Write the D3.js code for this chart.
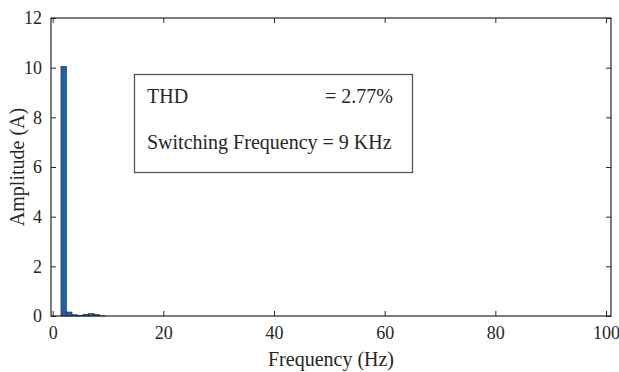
<!DOCTYPE html>
<html lang="en">
<head>
    <meta charset="UTF-8">
    <title>THD spectrum</title>
    <script type="text/javascript" src="https://d3js.org/d3.v7.min.js"></script>
    <style>
        body{
            margin: 0;
            background-color: white;
        }
        text{
            font-family: "Liberation Serif", "Times New Roman", serif;
            fill: #262626;
        }
    </style>
</head>
<body>
    <script type="text/javascript">
        // harmonic spectrum, 1 Hz bins
        var freqs = [0, 1, 2, 3, 4, 5, 6, 7, 8, 9, 10];
        var amps  = [0, 0, 10.05, 0.16, 0.05, 0.03, 0.07, 0.1, 0.06, 0.01, 0];
        var xTicks = [0, 20, 40, 60, 80, 100];
        var yTicks = [0, 2, 4, 6, 8, 10, 12];
        var infoLines = [["THD", "= 2.77%"], ["Switching Frequency = 9 KHz", ""]];

        var width = 619, height = 372;
        var pl = 51, pr = 611, pt = 18, pb = 316;

        var svg = d3.select("body").append("svg")
                .attr("width", width)
                .attr("height", height);

        var x = d3.scaleLinear().domain([-0.3, 100.9]).range([pl, pr]);
        var y = d3.scaleLinear().domain([0, 12]).range([pb, pt]);

        // bars
        var bw = x(1) - x(0);
        svg.append("g").selectAll("rect")
            .data(freqs)
            .enter()
            .append("rect")
            .attr("x", function(d){ return x(d) - bw / 2; })
            .attr("width", bw)
            .attr("y", function(d, i){ return y(amps[i]); })
            .attr("height", function(d, i){ return y(0) - y(amps[i]); })
            .attr("fill", "#1f63a0")
            .attr("stroke", "#102c48")
            .attr("stroke-width", 0.6);

        // axes with inner ticks, mirrored on top / right
        var fs = 18;
        var gx = svg.append("g").attr("transform", "translate(0," + pb + ")")
            .call(d3.axisBottom(x).tickValues(xTicks).tickSize(-5).tickPadding(10));
        var gy = svg.append("g").attr("transform", "translate(" + pl + ",0)")
            .call(d3.axisLeft(y).tickValues(yTicks).tickSize(-5).tickPadding(9));
        var gt = svg.append("g").attr("transform", "translate(0," + pt + ")")
            .call(d3.axisTop(x).tickValues(xTicks).tickSize(-5).tickFormat(""));
        var gr = svg.append("g").attr("transform", "translate(" + pr + ",0)")
            .call(d3.axisRight(y).tickValues(yTicks).tickSize(-5).tickFormat(""));
        [gx, gy, gt, gr].forEach(function(g){
            g.select(".domain").remove();
            g.selectAll("line").attr("stroke", "#262626");
            g.selectAll("text").attr("font-size", fs).attr("font-family", null).attr("fill", "#262626");
        });

        svg.append("rect")
            .attr("x", pl).attr("y", pt)
            .attr("width", pr - pl).attr("height", pb - pt)
            .attr("fill", "none").attr("stroke", "#262626").attr("stroke-width", 1.2);

        // axis labels
        svg.append("text")
            .attr("x", (pl + pr) / 2).attr("y", 366)
            .attr("text-anchor", "middle").attr("font-size", 20)
            .text("Frequency (Hz)");
        svg.append("text")
            .attr("transform", "translate(24," + (pt + pb) / 2 + ") rotate(-90)")
            .attr("text-anchor", "middle").attr("font-size", 20)
            .text("Amplitude (A)");

        // annotation box
        svg.append("rect")
            .attr("x", 134.5).attr("y", 74.5).attr("width", 278).attr("height", 98)
            .attr("fill", "white").attr("stroke", "#555").attr("stroke-width", 1.3);
        var ann = svg.append("g").attr("font-size", 20);
        ann.append("text").attr("x", 147).attr("y", 103).text(infoLines[0][0]);
        ann.append("text").attr("x", 325).attr("y", 103).text(infoLines[0][1]);
        ann.append("text").attr("x", 147).attr("y", 149).text(infoLines[1][0]);
    </script>
</body>
</html>
